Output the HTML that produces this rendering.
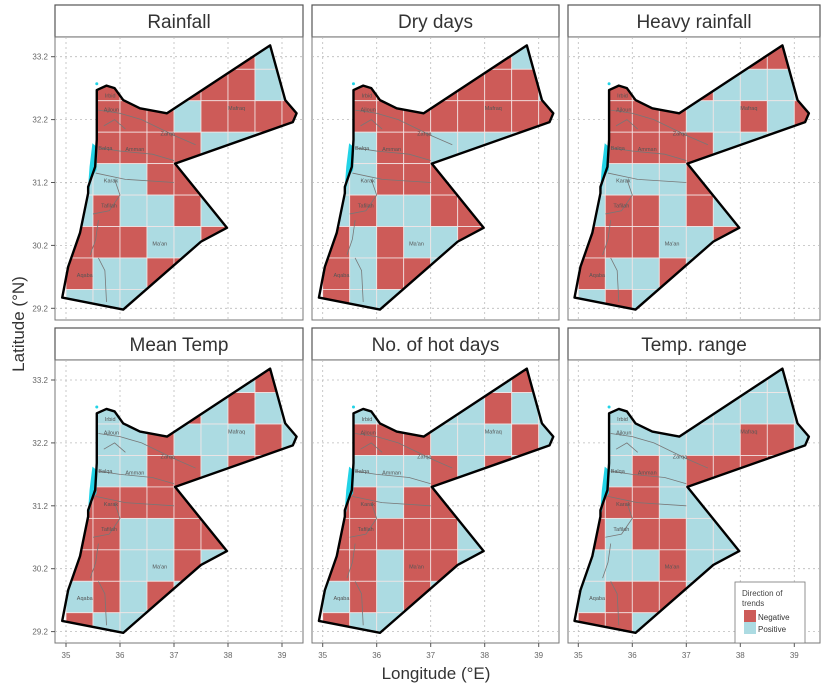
<!DOCTYPE html>
<html><head><meta charset="utf-8"><style>
html,body{margin:0;padding:0;background:#fff;}
svg{display:block;font-family:"Liberation Sans",sans-serif;}
</style></head><body>
<svg id="fig" width="825" height="686" viewBox="0 0 825 686"></svg>
<script>
const panelTitles = ["Rainfall","Dry days","Heavy rainfall","Mean Temp","No. of hot days","Temp. range"];
const xTicks = [35,36,37,38,39];
const yTicks = [29.2,30.2,31.2,32.2,33.2];
// rows r0..r8 : lat 33.5-33 ... 29.5-29 ; cols lon 35.0..39.5 step 0.5 ; N=negative, P=positive
const rainfallTrend = ["PPPPPPNPP","NNNNNNNPP","NNNNPNNNN","NNNNNPPPP","PPPNNPPPP","PNPPNPPPP","NNNPPNPPP","NPPNNPPPP","PPPPPPPPP"];
const dryDaysTrend  = ["PPPPPPNPP","NNNNNNNNP","NNNNNNNNN","PPNNPPPPP","PPNNNPPPP","PNPPNNPPP","NPNPPNPPP","NPNNPPPPP","NPPPPPPPP"];
const heavyRainTrend= ["PPPPPPNNP","NNNNNPPPP","NNNNPPNPN","NNNNNPPPP","PPPPNPPPP","PNNPNPPPP","NNNPPNPPP","NPPNPPPPP","PNPPPPPPP"];
const meanTempTrend = ["PPPPPPPNP","PPPPNPNPP","PPPNPPPNP","PPPNNPNNP","NNNNNPPPP","NNPPNNPPP","NNPPNPPPP","PNPNPPPPP","NPPPPPPPP"];
const hotDaysTrend  = ["PPPPPPPNP","PPPPPPNPP","NNNNPPPNP","PPPPNPNPP","NNPNNPPPP","NNNNNPPPP","NNPNNPPPP","PNPNPPPPP","NPPPPPPPP"];
const tempRangeTrend= ["PPPPPPPPP","PPPPPPPPP","PPPPPPNNP","PPNPNNNNP","NNNPPPPPP","NPNNPPPPP","PPPNPPPPP","PNNNPPPPP","NNPPPPPPP"];
const trends = [rainfallTrend,dryDaysTrend,heavyRainTrend,meanTempTrend,hotDaysTrend,tempRangeTrend];
const jordan = [[35.57,32.67],[35.75,32.74],[35.9,32.7],[36.06,32.51],[36.37,32.38],[36.87,32.3],[38.78,33.38],[39.06,32.51],[39.27,32.3],[39.2,32.16],[37.02,31.5],[37.98,30.48],[37.5,30.26],[36.06,29.18],[34.93,29.37],[35.04,29.86],[35.26,30.4],[35.41,31.03],[35.41,31.13],[35.54,31.45],[35.57,31.88]];
const borders = [
 [[35.6,32.35],[36.0,32.3],[36.4,32.2],[37.0,31.95],[37.4,31.8]],
 [[35.6,31.75],[36.0,31.7],[36.6,31.65],[37.0,31.55]],
 [[35.55,31.35],[36.1,31.25],[37.0,31.2]],
 [[35.9,31.25],[36.0,31.0],[35.8,30.75],[35.5,30.7]],
 [[35.45,30.05],[35.55,30.3],[35.6,30.6]],
 [[35.75,29.3],[35.72,29.8],[35.6,30.0]],
 [[35.7,32.1],[35.9,32.2],[36.1,32.05]]
];
const placeNames = [["Mafraq",38.0,32.35],["Zarqa",36.75,31.95],["Amman",36.1,31.7],["Balqa",35.6,31.72],["Karak",35.7,31.2],["Tafilah",35.65,30.8],["Ma'an",36.6,30.2],["Aqaba",35.2,29.7],["Ajloun",35.7,32.33],["Irbid",35.72,32.55]];
const panelX = [[55,303],[312,559],[568,820]];
const panelY = [[5,37,320],[328,360,643]];
const lon35 = [66,322.7,578.3];
const lat332 = [56.7,380];
const PXD = 54, PYD = 62.9;
const NS = "http://www.w3.org/2000/svg";
const fig = document.getElementById('fig');
function mk(tag, attrs, parent){const e=document.createElementNS(NS,tag);for(const k in attrs)e.setAttribute(k,attrs[k]);(parent||fig).appendChild(e);return e;}
for(let p=0;p<6;p++){
  const col=p%3,row=Math.floor(p/3);
  const [x0,x1]=panelX[col],[yS,yP,yB]=panelY[row];
  const sx=lon=>lon35[col]+(lon-35)*PXD;
  const sy=lat=>lat332[row]+(33.2-lat)*PYD;
  const g=mk('g',{});
  
  
  const strip=mk('rect',{x:x0,y:yS,width:x1-x0,height:yP-yS,fill:'#fff',stroke:'#555','stroke-width':1.2},g);
  
  
  const t=mk('text',{x:(x0+x1)/2,y:yP-9,'text-anchor':'middle','font-size':19,fill:'#333'},g);
  t.textContent=panelTitles[p];
  
  
  const frame=mk('rect',{x:x0,y:yP,width:x1-x0,height:yB-yP,fill:'#fff',stroke:'#777','stroke-width':1},g);
  
  
  xTicks.forEach(v=>{const l=mk('line',{x1:sx(v),x2:sx(v),y1:yP,y2:yB,stroke:'#bbb','stroke-dasharray':'2,3','stroke-width':0.8},g);
    
    });
  yTicks.forEach(v=>{const l=mk('line',{x1:x0,x2:x1,y1:sy(v),y2:sy(v),stroke:'#bbb','stroke-dasharray':'2,3','stroke-width':0.8},g);
    
    });
  const cid='clip'+p;
  const cp=mk('clipPath',{id:cid},g);
  mk('polygon',{points:jordan.map(q=>sx(q[0])+','+sy(q[1])).join(' ')},cp);
  const cells=mk('g',{'clip-path':'url(#'+cid+')'},g);
  
  
  const tr=trends[p];
  for(let r=0;r<tr.length;r++){
    for(let c=0;c<tr[r].length;c++){
      const lonA=35+c*0.5, latTop=33.5-r*0.5;
      const rc=mk('rect',{x:sx(lonA),y:sy(latTop),width:0.5*PXD,height:0.5*PYD,fill:tr[r][c]==='N'?'#cd5b58':'#acdbe2',stroke:'#f3e6e6','stroke-width':0.8},cells);
      
      
    }
  }
  borders.forEach(b=>{const l=mk('polyline',{points:b.map(q=>sx(q[0])+','+sy(q[1])).join(' '),fill:'none',stroke:'#777','stroke-width':0.8},cells);
    
    });
  placeNames.forEach(n=>{const tx=mk('text',{x:sx(n[1]),y:sy(n[2]),'font-size':5.5,fill:'#555'},g);tx.textContent=n[0];
    
    });
  const ds=mk('path',{d:`M${sx(35.5)},${sy(31.8)} L${sx(35.57)},${sy(31.75)} L${sx(35.55)},${sy(31.4)} L${sx(35.47)},${sy(31.3)} L${sx(35.42)},${sy(31.1)} L${sx(35.45)},${sy(31.45)} Z`,fill:'#22d3e6',stroke:'#22d3e6','stroke-width':1.5},g);
  
  
  mk('circle',{cx:sx(35.57),cy:sy(32.77),r:1.5,fill:'#22d3e6'},g);
  const ol=mk('polygon',{points:jordan.map(q=>sx(q[0])+','+sy(q[1])).join(' '),fill:'none',stroke:'#000','stroke-width':2.4,'stroke-linejoin':'round'},g);
  
  
  if(col===0){
    yTicks.forEach(v=>{mk('line',{x1:x0-4,x2:x0,y1:sy(v),y2:sy(v),stroke:'#555'},g);
      const tx=mk('text',{x:x0-7,y:sy(v)+3,'text-anchor':'end','font-size':8,fill:'#666'},g);tx.textContent=v.toFixed(1);
      
      });
  }
  if(row===1){
    xTicks.forEach(v=>{mk('line',{x1:sx(v),x2:sx(v),y1:yB,y2:yB+4,stroke:'#555'},g);
      const tx=mk('text',{x:sx(v),y:yB+15,'text-anchor':'middle','font-size':8,fill:'#666'},g);tx.textContent=v;
      
      });
  }
}
const xt=mk('text',{x:436,y:679,'text-anchor':'middle','font-size':17,fill:'#333'});xt.textContent='Longitude (°E)';


const yt=mk('text',{x:0,y:0,'text-anchor':'middle','font-size':17,fill:'#333',transform:'translate(24,324) rotate(-90)'});yt.textContent='Latitude (°N)';


const lg=mk('g',{});


mk('rect',{x:735,y:582,width:70,height:61,fill:'#fff',stroke:'#777','stroke-width':0.8},lg);
const l1=mk('text',{x:742,y:596,'font-size':8,fill:'#444'},lg);l1.textContent='Direction of';
const l2=mk('text',{x:742,y:606,'font-size':8,fill:'#444'},lg);l2.textContent='trends';
const k1=mk('rect',{x:744,y:610,width:12,height:12,fill:'#cd5b58'},lg);


const k2=mk('rect',{x:744,y:622,width:12,height:12,fill:'#acdbe2'},lg);


const n1=mk('text',{x:758,y:620,'font-size':8,fill:'#333'},lg);n1.textContent='Negative';
const n2=mk('text',{x:758,y:632,'font-size':8,fill:'#333'},lg);n2.textContent='Positive';
</script>
</body></html>
